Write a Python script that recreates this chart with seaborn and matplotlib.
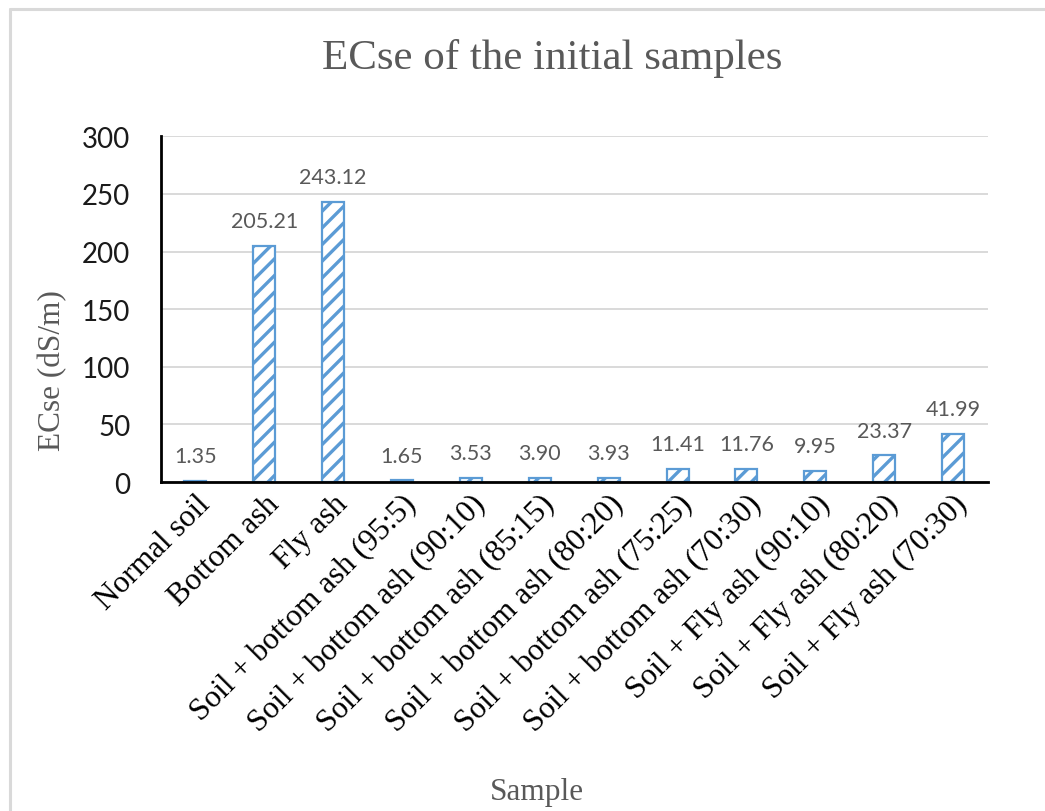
import matplotlib
matplotlib.use("Agg")
import matplotlib.pyplot as plt
from matplotlib.lines import Line2D
import seaborn as sns

# Sample names and measured ECse values (dS/m)
samples = [
    "Normal soil",
    "Bottom ash",
    "Fly ash",
    "Soil + bottom ash (95:5)",
    "Soil + bottom ash (90:10)",
    "Soil + bottom ash (85:15)",
    "Soil + bottom ash (80:20)",
    "Soil + bottom ash (75:25)",
    "Soil + bottom ash (70:30)",
    "Soil + Fly ash (90:10)",
    "Soil + Fly ash (80:20)",
    "Soil + Fly ash (70:30)",
]
ecse = [1.35, 205.21, 243.12, 1.65, 3.53, 3.90, 3.93, 11.41, 11.76, 9.95, 23.37, 41.99]
y_ticks = [0, 50, 100, 150, 200, 250, 300]

BLUE = "#5B9BD5"
GRID = "#D9D9D9"
GREY_TEXT = "#595959"
SERIF = "Liberation Serif"
SANS = "Lato"

sns.set_theme(style="white")
plt.rcParams["hatch.linewidth"] = 2.4
plt.rcParams["hatch.color"] = BLUE

fig = plt.figure(figsize=(10.45, 8.12), dpi=100)
ax = fig.add_axes([0.154, 0.405, 0.791, 0.426])

sns.barplot(
    x=samples, y=ecse, ax=ax, color="white", saturation=1,
    edgecolor=BLUE, linewidth=1.6, hatch="//", width=0.32, zorder=3,
)

# value labels above each bar
for i, v in enumerate(ecse):
    ax.annotate(f"{v:.2f}", xy=(i, v), xytext=(0, 10.5), textcoords="offset points",
                ha="center", va="bottom", fontsize=15.5, color=GREY_TEXT,
                family=SANS)

ax.set_ylim(0, 300)
ax.set_xlim(-0.5, len(samples) - 0.5)
ax.set_yticks(y_ticks)
ax.set_yticklabels([str(t) for t in y_ticks], fontsize=20, family=SANS, color="#1a1a1a")
ax.tick_params(axis="y", length=0, pad=22)
ax.tick_params(axis="x", length=0, pad=5)
ax.set_xticks(range(len(samples)))
ax.set_xticklabels(samples, rotation=45, ha="right", rotation_mode="anchor",
                   fontsize=22.5, family=SERIF, color="black")

ax.yaxis.grid(True, color=GRID, linewidth=1.4, zorder=0)
ax.set_axisbelow(True)
for side in ["top", "right"]:
    ax.spines[side].set_visible(False)
for side in ["left", "bottom"]:
    ax.spines[side].set_color("black")
    ax.spines[side].set_linewidth(2.0)
    ax.spines[side].set_zorder(4)

ax.set_xlabel("")
ax.set_ylabel("")

fig.text(0.528, 0.928, "ECse of the initial samples", ha="center", va="center",
         fontsize=31, family=SERIF, color=GREY_TEXT)
fig.text(0.514, 0.024, "Sample", ha="center", va="center",
         fontsize=22.5, family=SERIF, color=GREY_TEXT)
fig.text(0.050, 0.544, "ECse (dS/m)", ha="center", va="center", rotation=90,
         fontsize=22.5, family=SERIF, color=GREY_TEXT)

# light chart-area frame
fig.add_artist(Line2D([0.0098, 0.0098], [0.0, 0.988], transform=fig.transFigure,
                      color=GRID, linewidth=2.2))
fig.add_artist(Line2D([0.0098, 1.0], [0.988, 0.988], transform=fig.transFigure,
                      color=GRID, linewidth=2.2))

fig.savefig("out.png", dpi=100)
